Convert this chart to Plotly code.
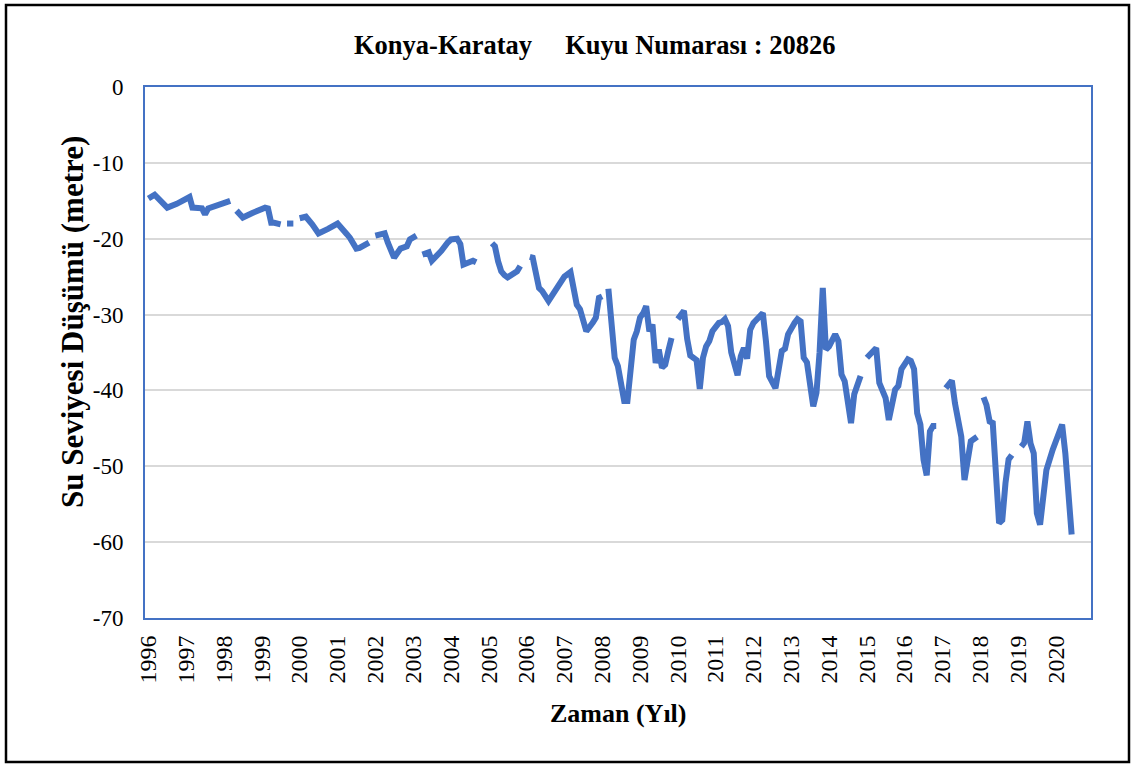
import plotly.graph_objects as go

# Monthly observations (None = missing measurement, breaks the line)
dates = [
    "1996-01", "1996-03", "1996-07", "1996-10", "1997-02", "1997-03", "1997-06", "1997-07",
    "1997-08", "1997-11", "1998-03", "1998-04",
    "1998-05", "1998-07", "1998-10", "1999-02", "1999-03", "1999-04", "1999-05", "1999-06",
    "1999-07", "1999-08",
    "1999-09", "1999-11", "1999-12",
    "2000-01", "2000-03", "2000-05", "2000-07", "2000-10", "2001-01", "2001-04", "2001-05",
    "2001-07", "2001-08", "2001-11", "2001-12",
    "2002-01", "2002-03", "2002-04", "2002-05", "2002-07", "2002-09", "2002-11", "2002-12",
    "2003-02", "2003-03",
    "2003-04", "2003-06", "2003-07", "2003-09", "2003-10", "2003-12", "2004-01", "2004-03",
    "2004-04", "2004-05", "2004-07", "2004-08", "2004-09", "2004-12",
    "2005-02", "2005-03", "2005-04", "2005-05", "2005-06", "2005-07", "2005-10", "2005-11",
    "2006-01",
    "2006-02", "2006-03", "2006-05", "2006-06", "2006-08", "2006-10", "2006-11", "2007-01",
    "2007-03", "2007-05", "2007-06", "2007-08", "2007-10", "2007-11", "2007-12", "2008-01",
    "2008-02",
    "2008-03", "2008-04", "2008-05", "2008-06", "2008-08", "2008-09", "2008-11", "2008-12",
    "2009-01", "2009-02", "2009-03", "2009-04", "2009-05", "2009-06", "2009-07", "2009-08",
    "2009-09", "2009-10", "2009-11", "2009-12",
    "2010-01", "2010-03", "2010-04", "2010-05", "2010-07", "2010-08", "2010-09", "2010-10",
    "2010-11", "2010-12", "2011-02", "2011-03", "2011-04", "2011-05", "2011-06", "2011-08",
    "2011-09", "2011-10", "2011-11", "2011-12", "2012-01", "2012-03", "2012-04", "2012-05",
    "2012-06", "2012-08", "2012-10", "2012-11", "2012-12", "2013-02", "2013-03", "2013-04",
    "2013-05", "2013-06", "2013-08", "2013-09", "2013-10", "2013-11", "2013-12", "2014-01",
    "2014-03", "2014-04", "2014-05", "2014-06", "2014-07", "2014-08", "2014-09", "2014-10",
    "2014-11", "2014-12",
    "2015-01", "2015-04", "2015-05", "2015-06", "2015-07", "2015-08", "2015-10", "2015-11",
    "2015-12", "2016-02", "2016-03", "2016-04", "2016-05", "2016-06", "2016-07", "2016-08",
    "2016-09", "2016-10", "2016-11", "2016-12",
    "2017-02", "2017-04", "2017-05", "2017-06", "2017-07", "2017-08", "2017-09", "2017-10",
    "2017-12", "2018-01",
    "2018-02", "2018-03", "2018-04", "2018-05", "2018-07", "2018-08", "2018-09", "2018-10",
    "2018-11", "2019-01",
    "2019-02", "2019-03", "2019-04", "2019-05", "2019-06", "2019-07", "2019-08", "2019-09",
    "2019-10", "2019-12", "2020-02", "2020-03", "2020-04", "2020-05", "2020-06",
]

levels = [
    -14.7, -14.2, -15.9, -15.4, -14.5, -15.9, -16.0, -16.8,
    -16.0, -15.6, -15.0, None,
    -16.3, -17.2, -16.6, -15.9, -16.0, -17.9, -17.9, -18.0,
    -18.1, None,
    -18.0, -18.0, None,
    -17.3, -17.1, -18.1, -19.3, -18.7, -18.0, -19.4, -19.9,
    -21.3, -21.2, -20.5, None,
    -19.6, -19.3, -19.3, -20.5, -22.5, -21.3, -21.0, -20.1,
    -19.6, None,
    -22.1, -21.8, -22.9, -22.1, -21.6, -20.5, -20.1, -20.0,
    -20.7, -23.4, -23.2, -22.9, -23.1, None,
    -20.6, -21.0, -23.0, -24.3, -24.8, -25.1, -24.3, -23.6,
    None,
    -22.4, -22.5, -26.5, -26.9, -28.2, -26.9, -26.0, -25.0,
    -24.4, -28.7, -29.3, -32.2, -31.1, -30.4, -27.8, -27.6,
    None,
    -26.6, -31.5, -35.7, -36.8, -41.4, -41.4, -33.3, -32.2,
    -30.4, -29.8, -28.9, -32.2, -31.3, -36.4, -34.6, -37.0,
    -36.6, -34.8, -33.1, None,
    -30.6, -29.5, -33.2, -35.4, -36.0, -39.8, -35.7, -34.2,
    -33.5, -32.2, -31.1, -31.0, -30.6, -31.5, -35.0, -38.0,
    -35.5, -34.4, -35.8, -32.0, -31.1, -30.2, -29.8, -33.5,
    -38.1, -39.7, -34.8, -34.5, -32.6, -31.1, -30.6, -30.9,
    -35.7, -36.3, -42.1, -40.3, -35.0, -26.5, -34.6, -34.2,
    -32.6, -33.5, -37.9, -38.8, -42.1, -44.3, -40.5, -39.0,
    -38.1, None,
    -35.7, -34.4, -39.0, -39.9, -41.0, -43.9, -39.9, -39.4,
    -37.2, -35.9, -36.1, -37.2, -43.0, -44.5, -49.1, -51.2,
    -45.4, -44.7, -44.7, None,
    -39.7, -38.7, -41.7, -44.5, -46.1, -51.8, -48.5, -46.7,
    -46.1, None,
    -40.9, -41.9, -44.1, -44.3, -57.5, -57.1, -52.2, -49.1,
    -48.5, None,
    -47.4, -46.9, -44.1, -47.0, -48.3, -56.2, -57.7, -53.5,
    -50.5, -47.8, -45.4, -44.5, -48.3, -52.7, -59.0,
]

year_labels = [str(y) for y in range(1996, 2021)]
y_ticks = [0, -10, -20, -30, -40, -50, -60, -70]
y_tick_labels = ["0", "-10", "-20", "-30", "-40", "-50", "-60", "-70"]

title_text = "<b>Konya-Karatay\u00a0\u00a0\u00a0\u00a0\u00a0Kuyu Numarası : 20826</b>"
x_title = "<b>Zaman (Yıl)</b>"
y_title = "<b>Su Seviyesi Düşümü (metre)</b>"

FONT = "Liberation Serif, Times New Roman, serif"
BLUE = "#4472C4"

fig = go.Figure()
fig.add_trace(go.Scatter(
    x=[d + "-01" for d in dates], y=levels, mode="lines",
    line=dict(color=BLUE, width=6), connectgaps=False, showlegend=False,
))

W, H = 1139, 765
L, R, T, B = 145, 1091, 87, 618
pw, ph = R - L, B - T

def px(x):
    return (x - L) / pw

def py(y):
    return (B - y) / ph

fig.update_layout(
    width=W, height=H,
    margin=dict(l=L, r=W - R, t=T, b=H - B),
    paper_bgcolor="white", plot_bgcolor="white",
    font=dict(family=FONT, color="black"),
    xaxis=dict(
        type="date",
        range=["1995-11-29", "2020-12-05"],
        tickvals=[f"{y}-01-01" for y in year_labels],
        ticktext=year_labels,
        tickangle=-90,
        tickfont=dict(size=24, family=FONT, color="black"),
        showgrid=False, zeroline=False,
        showline=True, mirror=True, linecolor=BLUE, linewidth=2,
        ticks="", ticklabelstandoff=6,
    ),
    yaxis=dict(
        range=[-70, 0],
        tickvals=y_ticks, ticktext=y_tick_labels,
        tickfont=dict(size=23, family=FONT, color="black"),
        showgrid=True, gridcolor="#D9D9D9", gridwidth=1.5,
        zeroline=False,
        showline=True, mirror=True, linecolor=BLUE, linewidth=2,
        ticks="", ticklabelstandoff=15,
    ),
    shapes=[dict(
        type="rect", xref="paper", yref="paper",
        x0=px(6), x1=px(1129), y0=py(762), y1=py(5),
        line=dict(color="black", width=2.5), fillcolor="rgba(0,0,0,0)", layer="below",
    )],
    annotations=[
        dict(text=title_text, xref="paper", yref="paper", x=px(594), y=py(45),
             xanchor="center", yanchor="middle", showarrow=False,
             font=dict(size=26.5, family=FONT, color="black")),
        dict(text=x_title, xref="paper", yref="paper", x=px(618), y=py(713),
             xanchor="center", yanchor="middle", showarrow=False,
             font=dict(size=26, family=FONT, color="black")),
        dict(text=y_title, xref="paper", yref="paper", x=px(72), y=py(322),
             xanchor="center", yanchor="middle", textangle=-90, showarrow=False,
             font=dict(size=31, family=FONT, color="black")),
    ],
)

fig.write_html(
    "out.html",
    config={"displayModeBar": False},
    post_script="document.body.style.margin='0';document.body.style.overflow='hidden';",
)
